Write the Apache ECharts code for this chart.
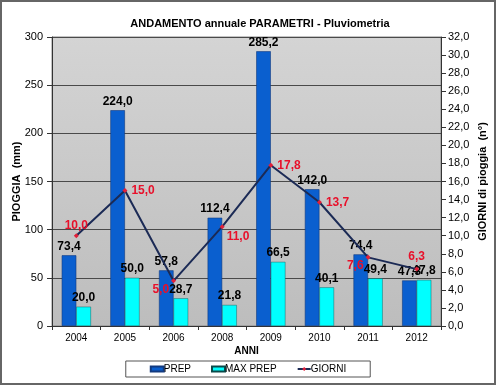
<!DOCTYPE html>
<html><head><meta charset="utf-8">
<script src="https://cdn.jsdelivr.net/npm/echarts@6/dist/echarts.min.js"></script>
<style>html,body{margin:0;padding:0;background:#fff}#c{width:496px;height:385px;box-sizing:border-box;border:2px solid #666;}</style>
</head><body><div id="c"></div>
<script>
const categories = ['2004','2005','2006','2008','2009','2010','2011','2012'];
const prep = [73.4, 224.0, 57.8, 112.4, 285.2, 142.0, 74.4, 47.3];
const maxPrep = [20.0, 50.0, 28.7, 21.8, 66.5, 40.1, 49.4, 47.8];
const giorni = [10.0, 15.0, 5.0, 11.0, 17.8, 13.7, 7.6, 6.3];
const giorniLabelPos = ['top','right','left','right','right','right','left','top'];
const giorniLabelOff = [[0,2],[0,0],[2,9],[-2,10],[0,0],[0,0],[2,8],[0,0]];

const fmt1 = v => Number(v).toFixed(1).replace('.', ',');
const chart = echarts.init(document.getElementById('c'), null, {renderer:'canvas'});
const font = 'Liberation Sans, Arial, sans-serif';
chart.setOption({
  animation:false,
  textStyle:{fontFamily:font},
  title:{text:'ANDAMENTO annuale PARAMETRI - Pluviometria', left:253, top:11, textAlign:'center',
    textStyle:{fontSize:11, fontWeight:'bold', color:'#000', fontFamily:font}},
  grid:{left:50, right:53, top:35, bottom:57, show:true, containLabel:false, outerBoundsMode:'none',
    backgroundColor:{type:'linear',x:0,y:0,x2:0,y2:1,colorStops:[{offset:0,color:'#d4d4d4'},{offset:1,color:'#bdbdbd'}]},
    borderColor:'#888', borderWidth:1},
  legend:{bottom:6, left:'center', itemGap:20, itemWidth:13, itemHeight:5,
    padding:[3,24,3,24], borderColor:'#555', borderWidth:1,
    textStyle:{fontSize:10, color:'#000', fontFamily:font, padding:[0,0,0,-5]},
    data:[{name:'PREP', icon:'rect'},{name:'MAX PREP', icon:'rect'},{name:'GIORNI'}]},
  xAxis:{type:'category', data:categories, name:'ANNI', nameLocation:'middle', nameGap:20, nameMoveOverlap:false,
    nameTextStyle:{fontSize:10, fontWeight:'bold', color:'#000'},
    axisLine:{lineStyle:{color:'#333'}}, axisTick:{show:true, length:4, lineStyle:{color:'#333'}},
    axisLabel:{fontSize:10, color:'#000', margin:7}},
  yAxis:[
    {type:'value', min:0, max:300, interval:50, name:'PIOGGIA  (mm)', nameLocation:'middle', nameGap:30, nameMoveOverlap:false,
     nameTextStyle:{fontSize:11, fontWeight:'bold', color:'#000'},
     axisLine:{show:true, lineStyle:{color:'#333'}}, axisTick:{show:true, length:5, lineStyle:{color:'#333'}},
     axisLabel:{fontSize:11, color:'#000', margin:9},
     splitLine:{lineStyle:{color:'#4a4a4a', width:1}}},
    {type:'value', min:0, max:32, interval:2, name:'GIORNI di pioggia  (n°)', nameLocation:'middle', nameGap:36, nameMoveOverlap:false,
     nameRotate:90,
     nameTextStyle:{fontSize:11, fontWeight:'bold', color:'#000'},
     axisLine:{show:true, lineStyle:{color:'#333'}}, axisTick:{show:true, length:5, lineStyle:{color:'#333'}},
     axisLabel:{fontSize:11, color:'#000', margin:7, formatter:fmt1},
     splitLine:{show:false}}
  ],
  series:[
    {name:'PREP', type:'bar', data:prep, barGap:'0%', barCategoryGap:'40%',
     itemStyle:{color:'#0a5fcf', borderColor:'#123a80', borderWidth:0.6},
     label:{show:true, position:'top', fontSize:12, fontWeight:'bold', color:'#000', formatter:p=>fmt1(p.value), distance:3}},
    {name:'MAX PREP', type:'bar', data:maxPrep,
     itemStyle:{color:'#00ffff', borderColor:'#0a4a4a', borderWidth:0.4},
     label:{show:true, position:'top', fontSize:12, fontWeight:'bold', color:'#000', formatter:p=>fmt1(p.value), distance:3}},
    {name:'GIORNI', type:'line', yAxisIndex:1, z:5,
     data:giorni.map((v,i)=>({value:v, label:{position:giorniLabelPos[i], offset:giorniLabelOff[i]}})),
     symbol:'diamond', symbolSize:5, lineStyle:{color:'#1b2a55', width:2},
     itemStyle:{color:'#e0203a'},
     label:{show:true, fontSize:12, fontWeight:'bold', color:'#e8102a', formatter:p=>fmt1(p.value), distance:4}}
  ]
});
</script></body></html>
